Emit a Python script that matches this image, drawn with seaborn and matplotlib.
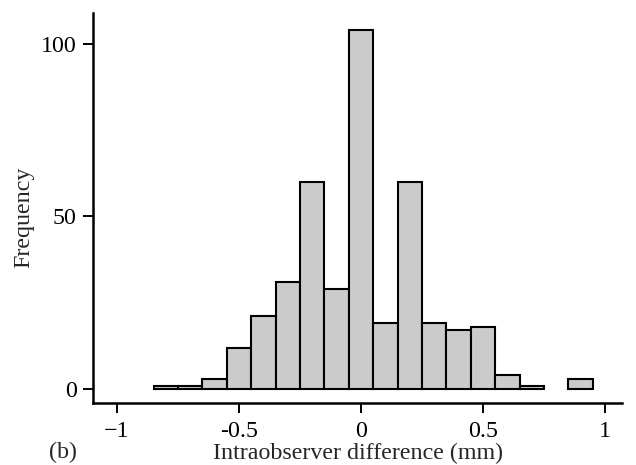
import numpy as np
import matplotlib
matplotlib.use('Agg')
import matplotlib.pyplot as plt
import seaborn as sns

# データ (ビン中心 と 度数)
bin_centres = [-0.8, -0.7, -0.6, -0.5, -0.4, -0.3, -0.2, -0.1, 0.0,
               0.1, 0.2, 0.3, 0.4, 0.5, 0.6, 0.7, 0.8, 0.9]
counts = [1, 1, 3, 12, 21, 31, 60, 29, 104,
          19, 60, 19, 17, 18, 4, 1, 0, 3]
bin_width = 0.1
x_ticks = [-1, -0.5, 0, 0.5, 1]
x_tick_labels = ['\u22121', '-0.5', '0', '0.5', '1']
y_ticks = [0, 50, 100]

# スタイル設定
sns.set_style('ticks')
plt.rcParams['font.family'] = ['Liberation Serif', 'DejaVu Serif']
fs = 17.3

fig = plt.figure(figsize=(6.36, 4.65), dpi=100)
fig.subplots_adjust(left=0.147, right=0.978, bottom=0.134, top=0.971)
ax = fig.add_subplot(111)

edges = [c - bin_width / 2 for c in bin_centres] + [bin_centres[-1] + bin_width / 2]
sns.histplot(x=bin_centres, weights=counts, bins=edges, stat='count',
             color='#cbcbcb', edgecolor='black', linewidth=1.5, alpha=1, ax=ax)

# 度数0のビンは描かない
for p in ax.patches:
    if p.get_height() == 0:
        p.set_visible(False)

ax.set_xlim(-1.096, 1.07)
ax.set_ylim(-3.96, 108.7)
ax.set_xticks(x_ticks)
ax.set_xticklabels(x_tick_labels)
ax.set_yticks(y_ticks)
ax.tick_params(direction='out', length=7, width=1.4, pad=5, labelsize=fs, colors='black')
ax.tick_params(axis='x', pad=6)

ax.set_xlabel('Intraobserver difference (mm)', fontsize=fs, labelpad=1)
ax.set_ylabel('Frequency', fontsize=fs)
ax.yaxis.set_label_coords(-0.1126, 0.477)

sns.despine(ax=ax)
for side in ['left', 'bottom']:
    ax.spines[side].set_linewidth(1.8)
    ax.spines[side].set_color('black')

fig.text(63 / 636, 1 - 458 / 465, '(b)', fontsize=fs, ha='center', va='baseline')

fig.savefig('out.png', dpi=100)
